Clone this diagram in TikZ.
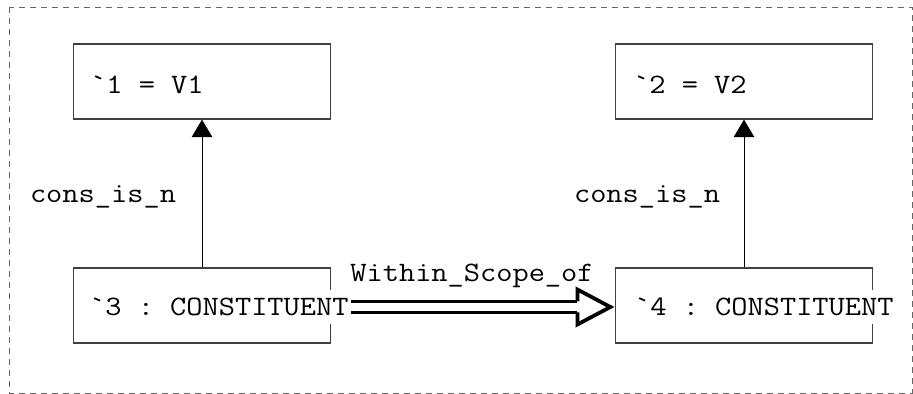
\documentclass[tikz,border=0pt]{standalone}
\usepackage{fontspec}
\setmonofont[FakeStretch=1.12]{Latin Modern Mono}
\usetikzlibrary{arrows.meta}

\begin{document}
\begin{tikzpicture}[
    x=0.02cm, y=-0.02cm,
    every node/.style={font=\ttfamily\fontsize{16}{19}\selectfont},
    frame/.style={
        draw=black!60,
        line width=0.5pt,
        dash pattern=on 0.12cm off 0.1cm
    },
    entity/.style={
        draw=black!75,
        line width=0.7pt,
        minimum width=5.14cm,
        minimum height=1.5cm,
        inner sep=0pt
    },
    entry/.style={
        fill=white,
        anchor=west,
        inner xsep=1pt,
        inner ysep=0.16cm
    },
    rel/.style={
        draw,
        line width=0.5pt,
        -{Triangle[width=0.41cm,length=0.35cm]}
    },
    relname/.style={inner sep=0pt},
    scopeline/.style={
        double,
        line width=0.055cm,
        double distance=0.16cm
    },
    scopehead/.style={
        line width=0.075cm,
        miter limit=10
    }
]

\useasboundingbox (0,0) rectangle (913,394);
\draw[frame] (9,7) rectangle (912,393);

\node[entity] (b1) at (202,81.5) {};
\node[entity] (b2) at (744,81.5) {};
\node[entity] (b3) at (202,305.5) {};
\node[entity] (b4) at (744,305.5) {};

\node[entry] (t1) at (88,85) {`1 = V1};
\node[entry] (t2) at (631,85) {`2 = V2};
\node[entry] (t3) at (87,307) {`3 : CONSTITUENT};
\node[entry] (t4) at (632,307) {`4 : CONSTITUENT};

\draw[rel] (b3) -- (b1);
\draw[rel] (b4) -- (b2);
\node[relname] (n1) at (103,197) {cons\_is\_n};
\node[relname] (n2) at (647,197) {cons\_is\_n};
\node[relname] (n3) at (472,276) {Within\_Scope\_of};

\coordinate (hd) at ([xshift=-0.09cm]t3.east -| b4.west);
\draw[scopeline] (t3.east) -- ([xshift=-0.66cm]hd);
\draw[scopehead] ([shift={(-0.66cm,0.11cm)}]hd) -- ([shift={(-0.66cm,0.35cm)}]hd)
    -- (hd) -- ([shift={(-0.66cm,-0.35cm)}]hd) -- ([shift={(-0.66cm,-0.11cm)}]hd);

\end{tikzpicture}
\end{document}
